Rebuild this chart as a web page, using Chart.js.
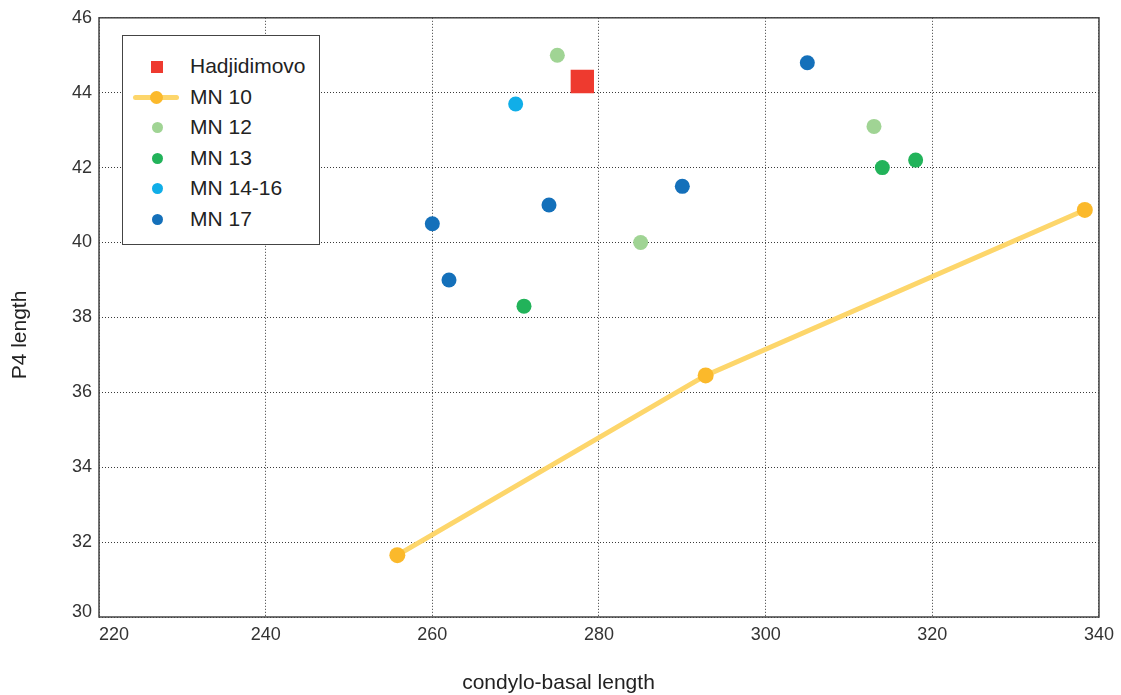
<!DOCTYPE html>
<html>
<head>
<meta charset="utf-8">
<script src="https://cdn.jsdelivr.net/npm/chart.js@4.4.1/dist/chart.umd.min.js"></script>
<style>
  html, body { margin: 0; padding: 0; background: #fff; }
  #wrap { position: relative; width: 1121px; height: 695px; }
  #legend {
    position: absolute; left: 122px; top: 35px; width: 198px; height: 210px;
    box-sizing: border-box; border: 1.5px solid #444; background: #fff;
    font-family: "Liberation Sans", Arial, sans-serif; font-size: 21px; color: #222;
  }
  .row { position: absolute; left: 0; width: 100%; height: 30px; line-height: 30px; }
  .row .txt { position: absolute; left: 67px; top: 0; }
  .row .mk { position: absolute; }
</style>
</head>
<body>
<div id="wrap">
  <canvas id="chart" width="1121" height="695"></canvas>
  <div id="legend"></div>
</div>
<script>
// data
const seriesNames = ['Hadjidimovo', 'MN 10', 'MN 12', 'MN 13', 'MN 14-16', 'MN 17'];
const seriesColors = ['#ee3a2f', '#fbb92b', '#a0d494', '#22b35a', '#10aee8', '#1470ba'];
const mn10LineColor = '#fdd66b';

const hadjX = [278];
const hadjY = [44.3];
const mn10X = [255.8, 292.8, 338.3];
const mn10Y = [31.65, 36.45, 40.87];
const mn12X = [275, 313, 285];
const mn12Y = [45, 43.1, 40];
const mn13X = [271, 314, 318];
const mn13Y = [38.3, 42, 42.2];
const mn1416X = [270];
const mn1416Y = [43.7];
const mn17X = [305, 260, 262, 274, 290];
const mn17Y = [44.8, 40.5, 39, 41, 41.5];

const xTicks = [220, 240, 260, 280, 300, 320, 340];
const yTicks = [30, 32, 34, 36, 38, 40, 42, 44, 46];
const xTitle = 'condylo-basal length';
const yTitle = 'P4 length';

const pts = (xs, ys) => xs.map((x, i) => ({x: x, y: ys[i]}));

const datasets = [
  {label: seriesNames[0], data: pts(hadjX, hadjY), pointStyle: 'rect', pointRadius: 16.5,
   backgroundColor: seriesColors[0], borderWidth: 0, showLine: false, order: 1},
  {label: seriesNames[1], data: pts(mn10X, mn10Y), showLine: true, borderColor: mn10LineColor,
   borderWidth: 5, pointRadius: 8, pointBackgroundColor: seriesColors[1], pointBorderWidth: 0, order: 2},
  {label: seriesNames[2], data: pts(mn12X, mn12Y), pointRadius: 7.5, backgroundColor: seriesColors[2], borderWidth: 0, order: 1},
  {label: seriesNames[3], data: pts(mn13X, mn13Y), pointRadius: 7.5, backgroundColor: seriesColors[3], borderWidth: 0, order: 1},
  {label: seriesNames[4], data: pts(mn1416X, mn1416Y), pointRadius: 7.5, backgroundColor: seriesColors[4], borderWidth: 0, order: 1},
  {label: seriesNames[5], data: pts(mn17X, mn17Y), pointRadius: 7.5, backgroundColor: seriesColors[5], borderWidth: 0, order: 1}
];

const tickFont = {family: '"Liberation Sans", Arial, sans-serif', size: 18};

// frame around the plot + axis titles
const framePlugin = {
  id: 'frame',
  beforeDraw(chart) {
    // first tick labels sit inside the corner, like the original
    const xi = chart.scales.x.getLabelItems();
    if (xi.length) xi[0].options.textAlign = 'left';
    const yi = chart.scales.y.getLabelItems();
    if (yi.length) yi[0].options.textBaseline = 'alphabetic';
  },
  afterDatasetsDraw(chart) {
    const a = chart.chartArea, ctx = chart.ctx;
    ctx.save();
    ctx.strokeStyle = '#444';
    ctx.lineWidth = 1.5;
    ctx.strokeRect(a.left, a.top, a.right - a.left, a.bottom - a.top);
    ctx.restore();
  },
  afterDraw(chart) {
    const ctx = chart.ctx;
    ctx.save();
    ctx.fillStyle = '#222';
    ctx.font = '21px "Liberation Sans", Arial, sans-serif';
    ctx.textAlign = 'center';
    ctx.textBaseline = 'middle';
    ctx.fillText(xTitle, chart.width / 2 - 2, 683);
    ctx.translate(20, 335);
    ctx.rotate(-Math.PI / 2);
    ctx.fillText(yTitle, 0, 0);
    ctx.restore();
  }
};

const chart = new Chart(document.getElementById('chart'), {
  type: 'scatter',
  data: {datasets: datasets},
  options: {
    responsive: false,
    animation: false,
    layout: {padding: {top: 16, right: 22, left: 0, bottom: 0}},
    plugins: {legend: {display: false}, tooltip: {enabled: false}},
    scales: {
      x: {
        type: 'linear', min: 220, max: 340,
        afterBuildTicks: s => { s.ticks = xTicks.map(v => ({value: v})); },
        afterFit: s => { s.height = 78; },
        grid: {color: '#3a3a3a', lineWidth: 1, drawTicks: false},
        border: {display: false, dash: [1, 2]},
        ticks: {color: '#333', font: tickFont, padding: 7, maxRotation: 0}
      },
      y: {
        type: 'linear', min: 30, max: 46,
        afterBuildTicks: s => { s.ticks = yTicks.map(v => ({value: v})); },
        afterFit: s => { s.width = 99; },
        grid: {color: '#3a3a3a', lineWidth: 1, drawTicks: false},
        border: {display: false, dash: [1, 2]},
        ticks: {color: '#333', font: tickFont, padding: 7}
      }
    }
  },
  plugins: [framePlugin]
});

// legend built from the datasets
const legend = document.getElementById('legend');
chart.data.datasets.forEach((ds, i) => {
  const row = document.createElement('div');
  row.className = 'row';
  row.style.top = (15 + i * 30.6) + 'px';
  if (i === 1) {
    const ln = document.createElement('div');
    ln.className = 'mk';
    ln.style.cssText = 'left:10px;top:13px;width:46px;height:5px;border-radius:3px;background:' + mn10LineColor;
    row.appendChild(ln);
    const dt = document.createElement('div');
    dt.className = 'mk';
    dt.style.cssText = 'left:27px;top:9px;width:13px;height:13px;border-radius:50%;background:' + seriesColors[1];
    row.appendChild(dt);
  } else {
    const mk = document.createElement('div');
    mk.className = 'mk';
    const round = ds.pointStyle === 'rect' ? '0' : '50%';
    const sz = ds.pointStyle === 'rect' ? 12 : 11;
    mk.style.cssText = 'left:' + (34 - sz / 2) + 'px;top:' + (15.5 - sz / 2) + 'px;width:' + sz + 'px;height:' + sz +
      'px;border-radius:' + round + ';background:' + seriesColors[i];
    row.appendChild(mk);
  }
  const t = document.createElement('span');
  t.className = 'txt';
  t.textContent = ds.label;
  row.appendChild(t);
  legend.appendChild(row);
});
</script>
</body>
</html>
